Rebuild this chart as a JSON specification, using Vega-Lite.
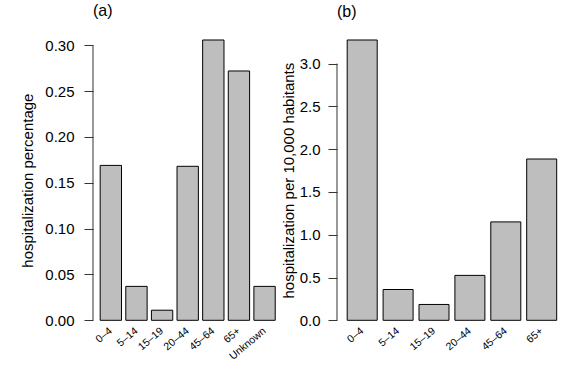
{
  "$schema": "https://vega.github.io/schema/vega-lite/v6.json",
  "background": "white",
  "padding": {"left": 20, "top": 3, "right": 0, "bottom": 0},
  "config": {
    "view": {"stroke": null},
    "font": "Liberation Sans",
    "concat": {"spacing": -2},
    "axis": {
      "labelColor": "black",
      "titleColor": "black",
      "titleFontWeight": "normal",
      "titleFontSize": 15,
      "labelFontSize": 15,
      "domainColor": "#333333",
      "tickColor": "#333333",
      "grid": false,
      "labelOverlap": false
    },
    "title": {"fontSize": 16, "fontWeight": "normal", "color": "black", "anchor": "start", "frame": "group"}
  },
  "datasets": {
    "a": [
      {"age": "0–4", "value": 0.169},
      {"age": "5–14", "value": 0.037},
      {"age": "15–19", "value": 0.011},
      {"age": "20–44", "value": 0.168},
      {"age": "45–64", "value": 0.3058},
      {"age": "65+", "value": 0.272},
      {"age": "Unknown", "value": 0.037}
    ],
    "b": [
      {"age": "0–4", "value": 3.276},
      {"age": "5–14", "value": 0.36},
      {"age": "15–19", "value": 0.185},
      {"age": "20–44", "value": 0.525},
      {"age": "45–64", "value": 1.15},
      {"age": "65+", "value": 1.885}
    ],
    "axisA": [{"lo": 0, "hi": 0.3}],
    "axisB": [{"lo": 0, "hi": 3.0}]
  },
  "hconcat": [
    {
      "width": 189.4,
      "height": 280.3,
      "title": {"text": "(a)", "offset": 6, "baseline": "alphabetic"},
      "resolve": {"scale": {"x": "independent"}},
      "layer": [
        {
          "data": {"name": "a"},
          "mark": {"type": "bar", "fill": "#bebebe", "stroke": "black", "strokeWidth": 1},
          "encoding": {
            "x": {
              "field": "age", "type": "nominal", "sort": null,
              "scale": {"paddingInner": 0.167, "paddingOuter": 0.28},
              "axis": {"title": null, "labelAngle": -40, "labelAlign": "right", "labelBaseline": "middle", "domain": false, "ticks": false, "labelPadding": 9, "labelFontSize": 10.5}
            },
            "y": {
              "field": "value", "type": "quantitative",
              "scale": {"domain": [0, 0.3058], "nice": false, "zero": true},
              "axis": {"title": "hospitalization percentage", "values": [0, 0.05, 0.1, 0.15, 0.2, 0.25, 0.3], "format": ".2f", "domain": false, "tickSize": 9, "labelPadding": 10, "titlePadding": 9}
            }
          }
        },
        {
          "data": {"name": "axisA"},
          "mark": {"type": "rule", "color": "#333333", "strokeWidth": 1},
          "encoding": {
            "x": {"datum": 0, "type": "quantitative", "scale": {"domain": [0, 1]}, "axis": null},
            "y": {"field": "lo", "type": "quantitative"},
            "y2": {"field": "hi"}
          }
        }
      ]
    },
    {
      "width": 229.9,
      "height": 280.3,
      "title": {"text": "(b)", "offset": 6, "baseline": "alphabetic"},
      "resolve": {"scale": {"x": "independent"}},
      "layer": [
        {
          "data": {"name": "b"},
          "mark": {"type": "bar", "fill": "#bebebe", "stroke": "black", "strokeWidth": 1},
          "encoding": {
            "x": {
              "field": "age", "type": "nominal", "sort": null,
              "scale": {"paddingInner": 0.164, "paddingOuter": 0.284},
              "axis": {"title": null, "labelAngle": -40, "labelAlign": "right", "labelBaseline": "middle", "domain": false, "ticks": false, "labelPadding": 9, "labelFontSize": 10.5}
            },
            "y": {
              "field": "value", "type": "quantitative",
              "scale": {"domain": [0, 3.276], "nice": false, "zero": true},
              "axis": {"title": "hospitalization per 10,000 habitants", "values": [0, 0.5, 1, 1.5, 2, 2.5, 3], "format": ".1f", "domain": false, "tickSize": 9, "labelPadding": 8, "titlePadding": 3}
            }
          }
        },
        {
          "data": {"name": "axisB"},
          "mark": {"type": "rule", "color": "#333333", "strokeWidth": 1},
          "encoding": {
            "x": {"datum": 0, "type": "quantitative", "scale": {"domain": [0, 1]}, "axis": null},
            "y": {"field": "lo", "type": "quantitative"},
            "y2": {"field": "hi"}
          }
        }
      ]
    }
  ]
}
